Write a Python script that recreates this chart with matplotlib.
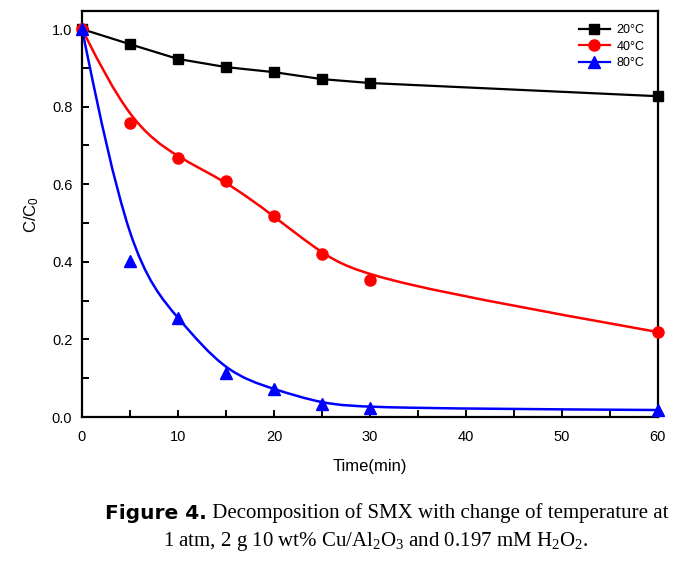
import numpy as np
import matplotlib
matplotlib.use("Agg")
import matplotlib.pyplot as plt
from matplotlib.path import Path
from matplotlib.patches import PathPatch
from matplotlib.lines import Line2D

plt.rcParams['mathtext.fontset'] = 'custom'
plt.rcParams['mathtext.rm'] = 'Liberation Serif'
plt.rcParams['mathtext.it'] = 'Liberation Serif'
plt.rcParams['mathtext.sf'] = 'Liberation Sans'

# ---- data ----
time = [0, 5, 10, 15, 20, 25, 30, 60]
c20 = [1.0, 0.961, 0.923, 0.902, 0.889, 0.871, 0.861, 0.827]
c40 = [1.0, 0.758, 0.668, 0.608, 0.518, 0.420, 0.353, 0.219]
c80 = [1.0, 0.402, 0.255, 0.113, 0.072, 0.034, 0.023, 0.018]
labels = ['20\u00b0C', '40\u00b0C', '80\u00b0C']
xticks = [0, 10, 20, 30, 40, 50, 60]
yticks = [0.0, 0.2, 0.4, 0.6, 0.8, 1.0]


def bspline_path(xs, ys):
    """Cubic B-spline with the data points as control points (end points repeated)."""
    P = np.column_stack([xs, ys]).astype(float)
    Q = np.vstack([P[0], P[0], P, P[-1], P[-1]])
    verts, codes = [], []
    for i in range(len(Q) - 3):
        q0, q1, q2, q3 = Q[i], Q[i + 1], Q[i + 2], Q[i + 3]
        b0 = (q0 + 4 * q1 + q2) / 6
        b1 = (2 * q1 + q2) / 3
        b2 = (q1 + 2 * q2) / 3
        b3 = (q1 + 4 * q2 + q3) / 6
        if i == 0:
            verts.append(b0); codes.append(Path.MOVETO)
        verts += [b1, b2, b3]
        codes += [Path.CURVE4] * 3
    return Path(np.array(verts), codes)


fig = plt.figure(figsize=(6.86, 5.62), dpi=100)
ax = fig.add_axes([0.1195, 0.258, 0.8395, 0.722])

ax.plot(time, c20, color='black', lw=1.6, marker='s', ms=7, zorder=3, clip_on=False)

for ys, col, mk, ms in [(c40, '#ff0000', 'o', 8), (c80, '#0000ff', '^', 8)]:
    ax.add_patch(PathPatch(bspline_path(time, ys), facecolor='none', edgecolor=col, lw=1.8, zorder=2))
    ax.plot(time, ys, ls='none', marker=mk, color=col, ms=ms, zorder=3, clip_on=False)

ax.set_xlim(0, 60)
ax.set_ylim(0, 1.046)
ax.set_xticks(xticks)
ax.set_xticks([5, 15, 25, 35, 45, 55], minor=True)
ax.set_yticks(yticks)
ax.set_yticks([0.1, 0.3, 0.5, 0.7, 0.9], minor=True)
ax.set_xticklabels([str(v) for v in xticks], fontfamily='Liberation Sans', fontsize=10.5)
ax.set_yticklabels(['%.1f' % v for v in yticks], fontfamily='Liberation Sans', fontsize=10.5)
ax.tick_params(which='both', direction='in', length=5, width=1.4, top=False, right=False)
ax.tick_params(axis='x', pad=9)
ax.tick_params(axis='y', pad=7)
for s in ax.spines.values():
    s.set_linewidth(1.6)

ax.set_xlabel('Time(min)', fontfamily='Liberation Sans', fontsize=12, labelpad=11)
ax.set_ylabel('C/C$_\\mathsf{0}$', fontfamily='Liberation Sans', fontsize=12, labelpad=8)

handles = [Line2D([], [], color='black', marker='s', ms=7, lw=1.6),
           Line2D([], [], color='#ff0000', marker='o', ms=8, lw=1.6),
           Line2D([], [], color='#0000ff', marker='^', ms=8, lw=1.6)]
ax.legend(handles, labels, loc='upper right', frameon=False,
          prop={'family': 'Liberation Sans', 'size': 9}, handlelength=2.5,
          labelspacing=0.35, borderaxespad=0.65, borderpad=0.4, handletextpad=0.55)

t1 = fig.text(105 / 686, 0.076, 'Figure 4.', fontfamily='DejaVu Sans', fontweight='bold',
              fontsize=14.5, va='baseline', ha='left')
ann = matplotlib.text.Annotation(' Decomposition of SMX with change of temperature at',
                                 xy=(1, 0), xycoords=t1, va='bottom', ha='left',
                                 fontfamily='Liberation Serif', fontsize=15)
ann.set_figure(fig)
fig.texts.append(ann)
fig.text(163 / 686, 0.037, '1 atm, 2 g 10 wt% Cu/Al$_2$O$_3$ and 0.197 mM H$_2$O$_2$.',
         fontfamily='Liberation Serif', fontsize=15, va='center', ha='left')

fig.savefig('out.png', dpi=100)
